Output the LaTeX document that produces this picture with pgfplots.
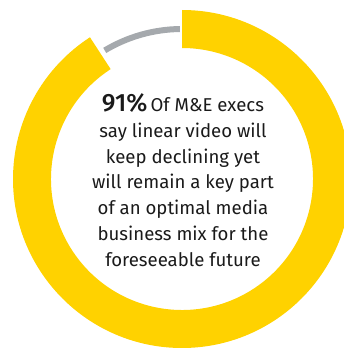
\documentclass[border=0pt]{standalone}
\usepackage{pgfplots}
\pgfplotsset{compat=1.18}
\usepackage{fontspec}
\setmainfont{Fira Sans}[BoldFont=Fira Sans Medium]
\definecolor{eyyellow}{HTML}{FFD200}
\definecolor{eygray}{HTML}{A5A9AD}
\definecolor{txt}{HTML}{1A1A1A}
\begin{document}
\begin{tikzpicture}
\pgfmathsetmacro{\valA}{91}
\pgfmathsetmacro{\valB}{9}
\begin{axis}[x=1pt,y=1pt,xmin=0,xmax=344,ymin=0,ymax=349,hide axis,
  clip=true,anchor=origin,at={(0,0)}]
\addplot[draw=none] coordinates {(0,0) (344,349)};
% yellow share: 91%, starting at 12 o'clock going clockwise, small gap
\pgfmathsetmacro{\endA}{90-3.6*\valA+0.6}
\fill[eyyellow] (axis cs:182,170) ++(90:169pt) arc[start angle=90,end angle=\endA,radius=169pt]
  -- ++(\endA:-38pt) arc[start angle=\endA,end angle=90,radius=131pt] -- cycle;
% gray share: 9%
\pgfmathsetmacro{\startB}{90+0.8}
\pgfmathsetmacro{\endB}{90+3.6*\valB-1.4}
\draw[eygray,line width=6pt] (axis cs:182,170) ++(\startB:150pt) arc[start angle=\startB,end angle=\endB,radius=150pt];
\node[align=center,text=txt,font=\fontsize{18.6}{25.8}\selectfont,anchor=center] at (axis cs:183,169)
 {{\fontsize{25}{25}\selectfont\bfseries 91\%}\,Of M\&E execs\\say linear video will\\keep declining yet\\will remain a key part\\of an optimal media\\business mix for the\\foreseeable future};
\end{axis}
\pgfresetboundingbox
\useasboundingbox (0,0) rectangle (344pt,349pt);
\end{tikzpicture}
\end{document}
